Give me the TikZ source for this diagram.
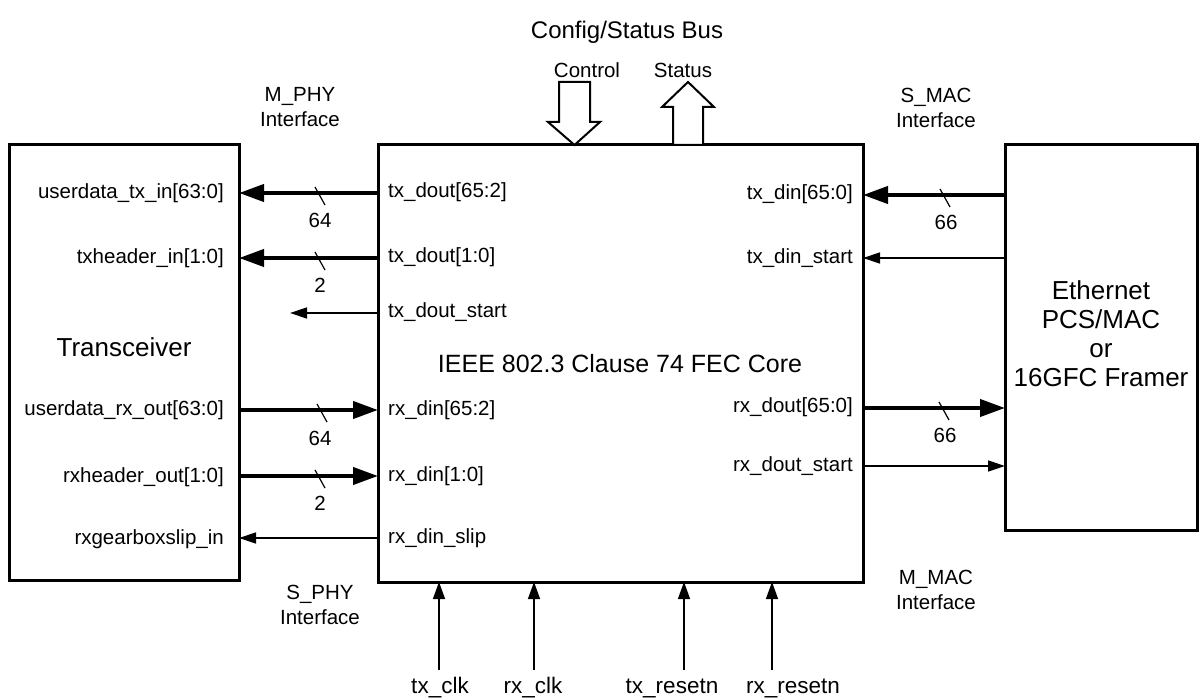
\documentclass[tikz,border=0pt]{standalone}
\usepackage{fontspec}
\setmainfont{Liberation Sans}
\usetikzlibrary{arrows.meta}
\tikzset{
  box/.style={draw, line width=3pt, inner sep=0pt, outer sep=0pt, anchor=north west},
  bus/.style={line width=4pt, -{Triangle[length=25pt,width=17pt]}},
  sig/.style={line width=1.4pt, -{Triangle[length=17pt,width=11pt]}},
  vsig/.style={line width=1.4pt, -{Triangle[length=17pt,width=12pt]}},
  lbl/.style={font=\fontsize{20.5}{25}\selectfont, inner sep=0pt},
  blbl/.style={font=\fontsize{22.5}{26}\selectfont, inner sep=0pt, anchor=base},
  big/.style={font=\fontsize{25}{29.5}\selectfont, inner sep=0pt, align=center},
  bigger/.style={font=\fontsize{26}{29}\selectfont, inner sep=0pt, align=center},
  tick/.style={line width=1.2pt},
  hollow/.style={draw, line width=2pt, fill=white, line join=miter},
}
\begin{document}
\begin{tikzpicture}[x=1pt,y=-1pt]
\useasboundingbox (0,0) rectangle (1202,700);

% boxes
\node[box, minimum width=230pt, minimum height=435pt] (trx) at (9,145) {};
\node[box, minimum width=485pt, minimum height=437pt] (core) at (378,145) {};
\node[box, minimum width=192pt, minimum height=385pt] (mac) at (1005,145) {};

% box titles
\node[bigger] (trxname) at (124,347) {Transceiver};
\node[big] (title) at (620,364) {IEEE 802.3 Clause 74 FEC Core};
\node[bigger] (macname) at (1101,334) {Ethernet\\PCS/MAC\\or\\16GFC Framer};

% top labels
\node[font=\fontsize{24}{28}\selectfont, inner sep=0pt] (bus) at (627,32) {Config/Status Bus};
\node[lbl] (ctrl) at (587,70) {Control};
\node[lbl] (stat) at (683,70) {Status};

% hollow arrows
\path[hollow] (559,82) -- (590,82) -- (590,122) -- (600,122) -- (574.5,145) -- (548,122) -- (559,122) -- cycle;
\path[hollow] (673,145) -- (673,107) -- (662,107) -- (688,82) -- (714,107) -- (703,107) -- (703,145) -- cycle;

% interface labels
\node[lbl, align=center] (mphy) at (300,107) {M\_PHY\\Interface};
\node[lbl, align=center] (smac) at (936,108) {S\_MAC\\Interface};
\node[lbl, align=center] (sphy) at (320,605) {S\_PHY\\Interface};
\node[lbl, align=center] (mmac) at (936,590) {M\_MAC\\Interface};

% y levels
\coordinate (yA) at (0,193);
\coordinate (yB) at (0,258);
\coordinate (yC) at (0,313);
\coordinate (yD) at (0,410);
\coordinate (yE) at (0,476);
\coordinate (yF) at (0,538);
\coordinate (yG) at (0,195);
\coordinate (yH) at (0,258);
\coordinate (yI) at (0,408);
\coordinate (yJ) at (0,466);

% transceiver port labels
\node[lbl, anchor=base east] (ltx) at (224,199) {userdata\_tx\_in[63:0]};
\node[lbl, anchor=base east] (lth) at (224,264) {txheader\_in[1:0]};
\node[lbl, anchor=base east] (lrx) at (224,416) {userdata\_rx\_out[63:0]};
\node[lbl, anchor=base east] (lrh) at (224,482) {rxheader\_out[1:0]};
\node[lbl, anchor=base east] (lgs) at (224,544) {rxgearboxslip\_in};

% core left port labels
\node[lbl, anchor=base west] (ctd) at (388,198) {tx\_dout[65:2]};
\node[lbl, anchor=base west] (cth) at (388,263) {tx\_dout[1:0]};
\node[lbl, anchor=base west] (cts) at (388,318) {tx\_dout\_start};
\node[lbl, anchor=base west] (crd) at (388,415) {rx\_din[65:2]};
\node[lbl, anchor=base west] (crh) at (388,481) {rx\_din[1:0]};
\node[lbl, anchor=base west] (crs) at (388,543) {rx\_din\_slip};

% core right port labels
\node[lbl, anchor=base east] (ctin) at (853,200) {tx\_din[65:0]};
\node[lbl, anchor=base east] (ctst) at (853,264) {tx\_din\_start};
\node[lbl, anchor=base east] (crout) at (853,413) {rx\_dout[65:0]};
\node[lbl, anchor=base east] (crst) at (853,471) {rx\_dout\_start};

% left connectors
\draw[bus] (core.west |- yA) -- (trx.east |- yA);
\draw[bus] (core.west |- yB) -- (trx.east |- yB);
\coordinate (txstartend) at (290,313);
\draw[sig] (core.west |- yC) -- (txstartend);
\draw[bus] (trx.east |- yD) -- (core.west |- yD);
\draw[bus] (trx.east |- yE) -- (core.west |- yE);
\draw[sig] (core.west |- yF) -- (trx.east |- yF);

% right connectors
\draw[bus] (mac.west |- yG) -- (core.east |- yG);
\draw[sig] (mac.west |- yH) -- (core.east |- yH);
\draw[bus] (core.east |- yI) -- (mac.west |- yI);
\draw[sig] (core.east |- yJ) -- (mac.west |- yJ);

% bus width ticks and numbers
\draw[tick] (315,187) -- (325,205);
\node[lbl] (w1) at (320,220) {64};
\draw[tick] (315,252) -- (325,270);
\node[lbl] (w2) at (320,285) {2};
\draw[tick] (317,404) -- (327,422);
\node[lbl] (w3) at (320,438) {64};
\draw[tick] (315,470) -- (325,488);
\node[lbl] (w4) at (320,503) {2};
\draw[tick] (940,189) -- (950,207);
\node[lbl] (w5) at (946,222) {66};
\draw[tick] (939,402) -- (949,420);
\node[lbl] (w6) at (945,435) {66};

% bottom inputs
\coordinate (c1) at (439,670);
\coordinate (c2) at (534,670);
\coordinate (c3) at (684,670);
\coordinate (c4) at (772,670);
\draw[vsig] (c1) -- (c1 |- core.south);
\draw[vsig] (c2) -- (c2 |- core.south);
\draw[vsig] (c3) -- (c3 |- core.south);
\draw[vsig] (c4) -- (c4 |- core.south);
\node[blbl] (txclk) at (440,693) {tx\_clk};
\node[blbl] (rxclk) at (533,693) {rx\_clk};
\node[blbl] (txrst) at (672,693) {tx\_resetn};
\node[blbl] (rxrst) at (793,693) {rx\_resetn};
\end{tikzpicture}
\end{document}
